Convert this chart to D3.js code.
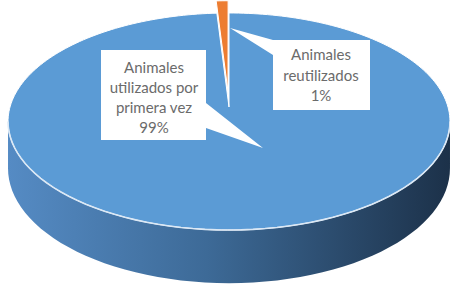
<!DOCTYPE html>
<html>
<head>
<meta charset="utf-8">
<script src="https://cdn.jsdelivr.net/npm/d3@7"></script>
<style>
  body { margin: 0; background: #fff; }
  svg { display: block; }
</style>
</head>
<body>
<div id="container"></div>
<script>
/* DATA */
const categories = ["Animales utilizados por primera vez", "Animales reutilizados"]
const values = [99, 1]
const colors = ["#5b9bd5", "#ed7d31"]
const labelLines = [["Animales", "utilizados por", "primera vez"], ["Animales", "reutilizados"]]

/* CONSTANTS AND GLOBALS */
const width = 450, height = 285
// perspective disc: x = cx + A*X/(1-kZ), y = cy + (B*Z + D*h)/(1-kZ)
const cx = 229, cy = 107, A = 219, B = 106.6, k = 0.1336, D = 46
const explode = [0, 0.15]

// callout boxes (layout only)
const boxes = [
  { x0: 101, y0: 50, x1: 206, y1: 140, tip: [263, 148], side: "right", t0: 103, t1: 128, tx: 154, ty: 73, dy: 20 },
  { x0: 273, y0: 40, x1: 370, y1: 110, tip: [230, 28], side: "left", t0: 40, t1: 55, tx: 321, ty: 60, dy: 20.5 }
]

function project(X, Z, h) {
  const w = 1 - k * Z
  return [cx + A * X / w, cy + (B * Z + D * h) / w]
}

const svg = d3.select("#container")
  .append("svg")
  .attr("width", width)
  .attr("height", height)

const defs = svg.append("defs")
const grad = defs.append("linearGradient")
  .attr("id", "sideGrad")
  .attr("x1", "0%").attr("x2", "100%").attr("y1", "0%").attr("y2", "0%")
grad.append("stop").attr("offset", "0%").attr("stop-color", "#558bc4")
grad.append("stop").attr("offset", "45%").attr("stop-color", "#3d6a97")
grad.append("stop").attr("offset", "100%").attr("stop-color", "#1c3149")

const line = d3.line()

// side wall of the disc (front half)
const t0 = Math.asin(k), t1 = Math.PI - Math.asin(k)
const sideTop = d3.range(0, 61).map(i => {
  const t = t0 + (t1 - t0) * i / 60
  return project(Math.cos(t), Math.sin(t), 0)
})
const sideBottom = d3.range(60, -1, -1).map(i => {
  const t = t0 + (t1 - t0) * i / 60
  return project(Math.cos(t), Math.sin(t), 1)
})
svg.append("path")
  .attr("d", line(sideTop.concat(sideBottom)) + "Z")
  .attr("fill", "url(#sideGrad)")

// top face slices
const pie = d3.pie().sort(null).value(d => d)
const arcs = pie(values)

function slicePoints(d, i) {
  const mid = (d.startAngle + d.endAngle) / 2
  const ox = Math.sin(mid) * explode[i], oz = -Math.cos(mid) * explode[i]
  const n = Math.max(4, Math.ceil((d.endAngle - d.startAngle) * 40))
  const pts = [project(ox, oz, 0)]
  for (let j = 0; j <= n; j++) {
    const a = d.startAngle + (d.endAngle - d.startAngle) * j / n
    pts.push(project(Math.sin(a) + ox, -Math.cos(a) + oz, 0))
  }
  return pts
}

svg.selectAll("path.slice")
  .data(arcs)
  .join("path")
  .attr("class", "slice")
  .attr("d", (d, i) => line(slicePoints(d, i)) + "Z")
  .attr("fill", (d, i) => colors[i])
  .attr("stroke", "#ffffff")
  .attr("stroke-width", 1)
  .attr("stroke-linejoin", "round")

// light rim on the front edge of the top face
svg.append("path")
  .attr("d", line(sideTop))
  .attr("fill", "none")
  .attr("stroke", "#dbe8f5")
  .attr("stroke-width", 1.6)

// callouts
const fmt = d3.format(".0%")
const total = d3.sum(values)

boxes.forEach((b, i) => {
  let d
  if (b.side === "right") {
    d = `M${b.x0},${b.y0}H${b.x1}V${b.t0}L${b.tip[0]},${b.tip[1]}L${b.x1},${b.t1}V${b.y1}H${b.x0}Z`
  } else {
    d = `M${b.tip[0]},${b.tip[1]}L${b.x0},${b.t0}H${b.x1}V${b.y1}H${b.x0}V${b.t1}Z`
  }
  svg.append("path")
    .attr("d", d)
    .attr("fill", "#ffffff")

  const lines = labelLines[i].concat([fmt(values[i] / total)])
  svg.append("g")
    .selectAll("text")
    .data(lines)
    .join("text")
    .attr("x", b.tx)
    .attr("y", (t, j) => b.ty + j * b.dy)
    .attr("text-anchor", "middle")
    .attr("font-family", "Lato, 'Open Sans', sans-serif")
    .attr("font-size", 15)
    .attr("fill", "#6b6b6b")
    .text(t => t)
})
</script>
</body>
</html>
